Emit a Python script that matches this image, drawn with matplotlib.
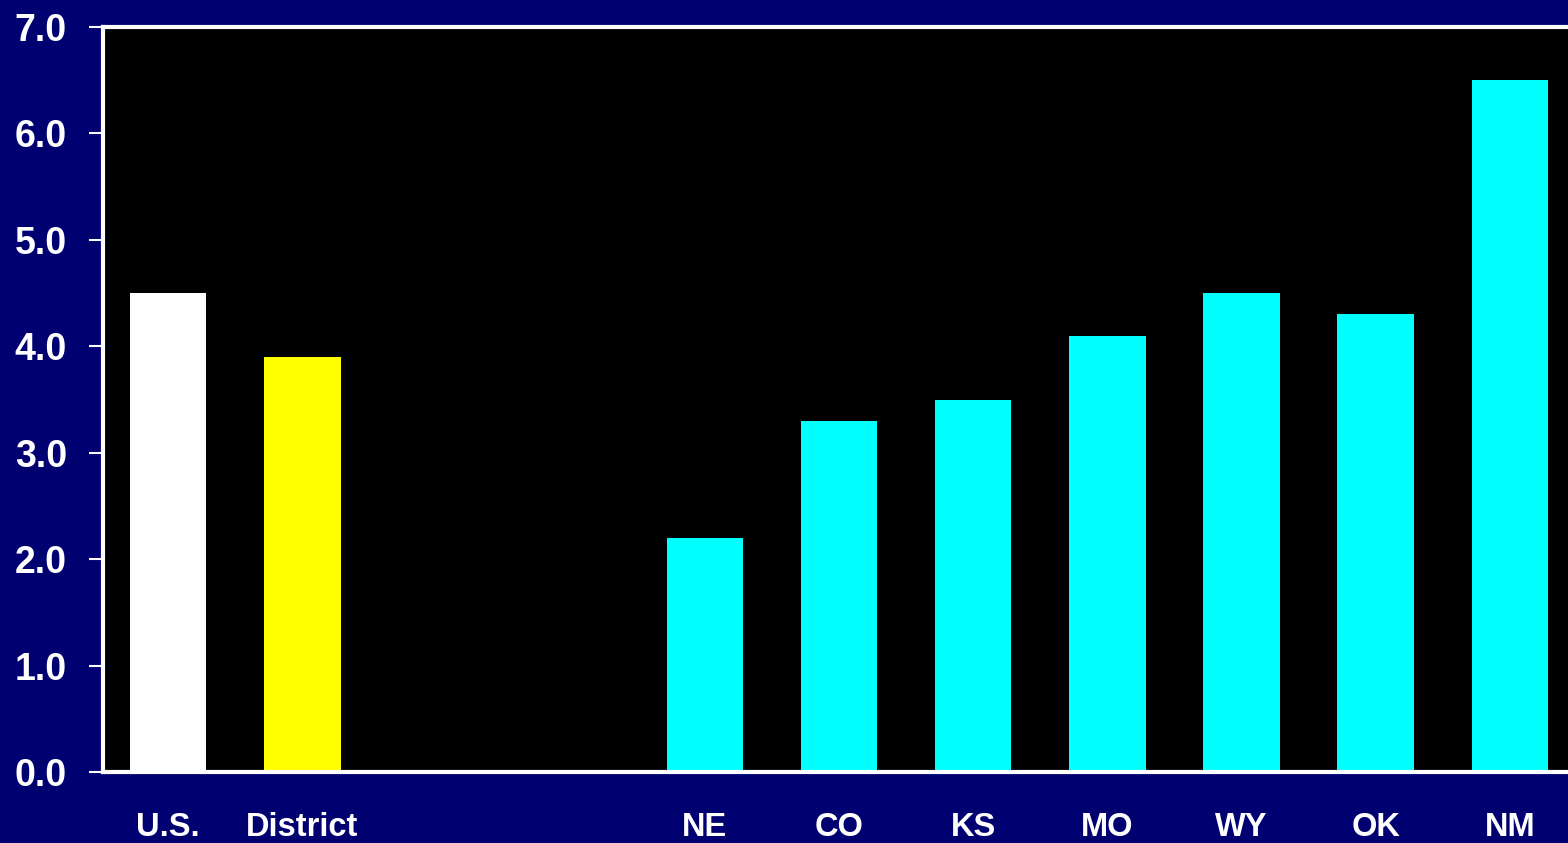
import matplotlib.pyplot as plt

# Data
labels = ["U.S.", "District", "", "", "NE", "CO", "KS", "MO", "WY", "OK", "NM"]
values = [4.5, 3.9, 0, 0, 2.2, 3.3, 3.5, 4.1, 4.5, 4.3, 6.5]
colors = ["white", "#FFFF00", "none", "none"] + ["#00FFFF"] * 7
yticks = [0, 1, 2, 3, 4, 5, 6, 7]

navy = "#000070"
plt.rcParams["font.family"] = ["Liberation Sans", "DejaVu Sans"]

fig = plt.figure(figsize=(15.68, 8.43), dpi=100, facecolor=navy)
# axes runs past the right edge of the figure, like the original slide
ax = fig.add_axes([103 / 1568, 71 / 843, 1474 / 1568, 745 / 843])
ax.set_facecolor("black")

x = list(range(len(labels)))
ax.bar(x, values, width=0.57, color=colors, zorder=2)

ax.set_xlim(-0.485, 10.5)
ax.set_ylim(0, 7)
ax.set_yticks(yticks)
ax.set_yticklabels([f"{t:.1f}" for t in yticks], fontsize=27, fontweight="bold", color="white")
ax.set_xticks(x)
ax.set_xticklabels(labels, fontsize=23.5, fontweight="bold", color="white")

ax.tick_params(axis="y", direction="out", length=10, width=1.5, color="white", pad=16)
ax.tick_params(axis="x", length=0, pad=29)

for side in ["left", "bottom", "top"]:
    ax.spines[side].set_color("white")
    ax.spines[side].set_linewidth(3)
    ax.spines[side].set_zorder(3)
ax.spines["right"].set_visible(False)

fig.savefig("out.png", dpi=100, facecolor=navy)
